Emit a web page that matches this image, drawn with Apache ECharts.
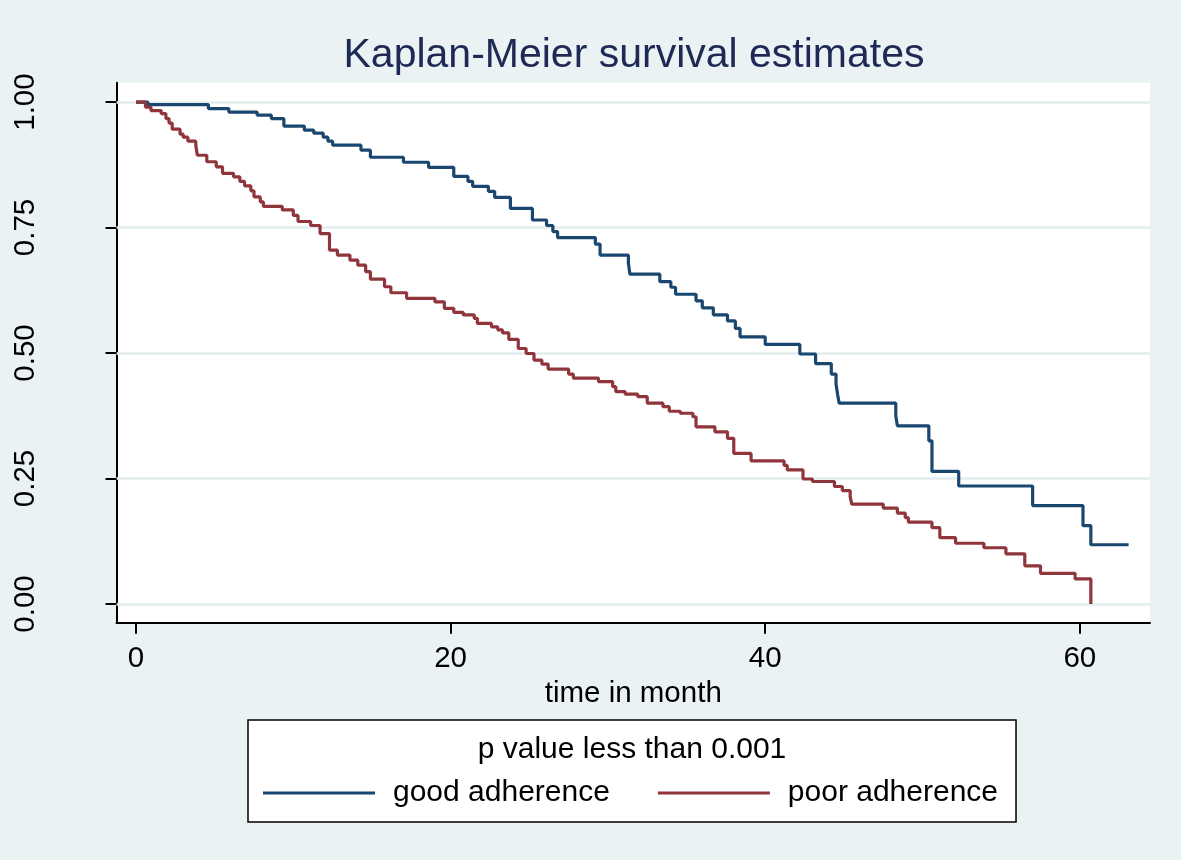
<!DOCTYPE html>
<html><head><meta charset="utf-8">
<script src="https://cdn.jsdelivr.net/npm/echarts@6/dist/echarts.min.js"></script>
<style>html,body{margin:0;padding:0;background:#EAF2F3}#c{width:1181px;height:860px}</style>
</head><body><div id="c"></div>
<script>
const chartTitle = 'Kaplan-Meier survival estimates';
const legendTitle = 'p value less than 0.001';
const xAxisName = 'time in month';
const seriesNames = ['good adherence', 'poor adherence'];
const xTicks = [0, 20, 40, 60];
const yTicks = [0, 0.25, 0.5, 0.75, 1];

const goodTimes = [0, 0.75, 4.6, 5.9, 7.7, 8.6, 9.4, 10.7, 11.3, 11.9, 12.2, 12.5, 14.3, 14.9, 17.0, 18.6, 20.2, 21.1, 21.4, 22.4, 22.8, 23.8, 25.2, 26.1, 26.5, 26.8, 29.2, 29.5, 31.3, 31.4, 33.3, 34.0, 34.3, 35.6, 36.0, 36.7, 37.6, 38.1, 38.4, 40.0, 42.2, 43.2, 44.2, 44.5, 44.6, 44.7, 48.3, 48.4, 50.4, 50.6, 52.3, 57.0, 60.2, 60.7, 63.1];
const goodSurvival = [1.0, 0.995, 0.987, 0.980, 0.974, 0.967, 0.952, 0.944, 0.938, 0.930, 0.922, 0.914, 0.904, 0.890, 0.880, 0.870, 0.852, 0.842, 0.832, 0.822, 0.810, 0.788, 0.765, 0.754, 0.742, 0.730, 0.717, 0.695, 0.679, 0.657, 0.642, 0.631, 0.617, 0.604, 0.590, 0.576, 0.564, 0.549, 0.532, 0.517, 0.498, 0.479, 0.458, 0.438, 0.418, 0.400, 0.375, 0.355, 0.325, 0.264, 0.235, 0.196, 0.156, 0.118, 0.118];

const poorTimes = [0, 0.6, 0.95, 1.6, 1.9, 2.1, 2.3, 2.8, 3.0, 3.3, 3.8, 3.9, 4.5, 5.1, 5.5, 6.2, 6.6, 6.9, 7.3, 7.5, 7.9, 8.1, 9.3, 10.0, 10.3, 11.1, 11.7, 12.3, 12.8, 13.6, 14.1, 14.6, 14.9, 15.8, 16.2, 17.2, 19.0, 19.6, 20.2, 20.8, 21.5, 21.7, 22.6, 23.0, 23.3, 23.7, 24.3, 24.8, 25.3, 25.8, 26.2, 27.5, 27.8, 29.4, 30.3, 30.5, 31.1, 31.9, 32.5, 33.5, 33.9, 34.6, 35.4, 35.6, 36.8, 37.6, 38.0, 39.1, 41.2, 41.4, 42.4, 43.0, 44.4, 44.9, 45.4, 45.5, 47.5, 48.4, 48.9, 49.1, 50.6, 51.1, 52.1, 53.9, 55.3, 56.5, 57.5, 59.7, 60.7];
const poorSurvival = [1.0, 0.990, 0.983, 0.977, 0.967, 0.958, 0.946, 0.936, 0.930, 0.922, 0.914, 0.894, 0.881, 0.871, 0.858, 0.851, 0.842, 0.833, 0.823, 0.811, 0.801, 0.792, 0.785, 0.774, 0.762, 0.754, 0.738, 0.705, 0.695, 0.685, 0.675, 0.662, 0.647, 0.632, 0.620, 0.609, 0.602, 0.589, 0.581, 0.576, 0.569, 0.559, 0.552, 0.546, 0.540, 0.527, 0.509, 0.499, 0.486, 0.478, 0.468, 0.458, 0.450, 0.443, 0.433, 0.423, 0.418, 0.413, 0.400, 0.393, 0.384, 0.380, 0.373, 0.353, 0.343, 0.330, 0.300, 0.285, 0.276, 0.267, 0.249, 0.244, 0.234, 0.226, 0.214, 0.199, 0.191, 0.181, 0.172, 0.163, 0.152, 0.132, 0.121, 0.112, 0.100, 0.076, 0.061, 0.050, 0.0];

const FONT = '"Liberation Sans", Arial, Helvetica, sans-serif';
const toPairs = (t, s) => t.map((v, i) => [v, s[i]]);

const chart = echarts.init(document.getElementById('c'), null, {renderer: 'canvas'});
chart.setOption({
  backgroundColor: '#EAF2F3',
  animation: false,
  graphic: [
    {type: 'text', x: 634, y: 56, z: 10, style: {text: chartTitle, fill: '#1E2A55', font: '41px ' + FONT, align: 'center', verticalAlign: 'middle'}},
    {type: 'text', x: 632, y: 750, z: 200, style: {text: legendTitle, fill: '#000', font: '30px ' + FONT, align: 'center', verticalAlign: 'middle'}}
  ],
  grid: {left: 116.5, right: 31, top: 82.7, bottom: 237.3, show: true, backgroundColor: '#fff', borderWidth: 0, containLabel: false},
  xAxis: {
    type: 'value', min: -1.24, max: 64.46,
    name: xAxisName, nameLocation: 'middle', nameGap: 52,
    nameTextStyle: {fontSize: 29.5, fontFamily: FONT, color: '#000'},
    axisLine: {show: true, onZero: false, lineStyle: {color: '#000', width: 2}},
    axisTick: {show: true, length: 11, lineStyle: {color: '#000', width: 2}, customValues: xTicks},
    axisLabel: {customValues: xTicks, fontSize: 29.5, fontFamily: FONT, color: '#000', margin: 21},
    splitLine: {show: false}
  },
  yAxis: {
    type: 'value', min: -0.0373, max: 1.0385,
    axisLine: {show: true, onZero: false, lineStyle: {color: '#000', width: 2}},
    axisTick: {show: true, length: 11, lineStyle: {color: '#000', width: 2}, customValues: yTicks},
    axisLabel: {customValues: yTicks, fontSize: 29.5, fontFamily: FONT, color: '#000', rotate: 90, align: 'center', verticalAlign: 'middle', margin: 91,
      formatter: v => Number(v).toFixed(2)},
    splitLine: {show: false}
  },
  legend: {
    data: seriesNames,
    left: 248, top: 720,
    orient: 'horizontal',
    padding: [58, 18, 14, 15],
    backgroundColor: '#fff', borderColor: '#000', borderWidth: 1.5,
    icon: 'rect', itemWidth: 112, itemHeight: 3, itemGap: 48,
    textStyle: {fontSize: 30, fontFamily: FONT, color: '#000', padding: [0, 0, 0, 13]},
    selectedMode: false
  },
  series: [
    {name: 'gridlines', type: 'line', data: [], silent: true, z: 1,
      markLine: {silent: true, z: 1, symbol: 'none', label: {show: false},
        lineStyle: {color: '#E3ECEE', width: 2.5, type: 'solid'},
        data: yTicks.map(v => ({yAxis: v}))}},
    {name: seriesNames[0], type: 'line', step: 'end', data: toPairs(goodTimes, goodSurvival), showSymbol: false, symbol: 'none', color: '#1A476F',
      lineStyle: {color: '#1A476F', width: 3.2}, z: 3},
    {name: seriesNames[1], type: 'line', step: 'end', data: toPairs(poorTimes, poorSurvival), showSymbol: false, symbol: 'none', color: '#90353B',
      lineStyle: {color: '#90353B', width: 3.2}, z: 3}
  ]
});
</script></body></html>
